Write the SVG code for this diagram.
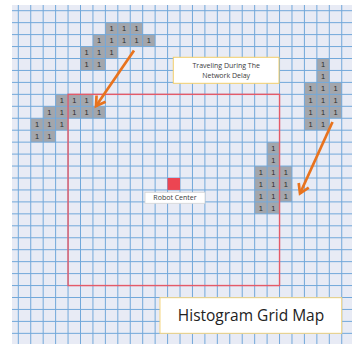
<svg xmlns="http://www.w3.org/2000/svg" width="352" height="344" viewBox="0 0 352 344">
  <style>
    .cell { fill: #A3A6AC; }
    .one { font-family: "Liberation Sans", Arial, sans-serif; font-size: 7.5px; fill: #2b2b2b; text-anchor: middle; }
    .grid { stroke: #72A8DA; stroke-width: 1; fill: none; }
    .lbl { font-family: "Open Sans", "Liberation Sans", Arial, sans-serif; fill: #3a3a3a; text-anchor: middle; }
    .arrow { stroke: #E8731E; stroke-width: 2.7; fill: none; marker-end: url(#head); }
  </style>
  <defs>
    <marker id="head" markerUnits="userSpaceOnUse" markerWidth="14" markerHeight="14" refX="11" refY="7" orient="auto">
      <path d="M2,1.5 L11,7 L2,12.5" fill="none" stroke="#E8731E" stroke-width="2.7" stroke-linejoin="miter"/>
    </marker>
  </defs>
  <rect x="0" y="0" width="352" height="344" fill="#ffffff"/>
  <rect x="12" y="5" width="340" height="339" fill="#E8EBF5"/>

  <g id="clusterA">
    <rect class="cell" x="105.38" y="22.65" width="37.32" height="11.95"/>
    <rect class="cell" x="92.94" y="34.6" width="62.2" height="11.95"/>
    <rect class="cell" x="80.5" y="46.55" width="37.32" height="11.95"/>
    <rect class="cell" x="80.5" y="58.5" width="24.88" height="11.95"/>
  </g>
  <g id="clusterB">
    <rect class="cell" x="55.62" y="94.35" width="37.32" height="11.95"/>
    <rect class="cell" x="43.18" y="106.3" width="62.2" height="11.95"/>
    <rect class="cell" x="30.74" y="118.25" width="37.32" height="11.95"/>
    <rect class="cell" x="30.74" y="130.2" width="24.88" height="11.95"/>
  </g>
  <g id="clusterC">
    <rect class="cell" x="316.86" y="58.5" width="12.44" height="23.9"/>
    <rect class="cell" x="304.42" y="82.4" width="37.32" height="35.85"/>
    <rect class="cell" x="304.42" y="118.25" width="24.88" height="11.95"/>
  </g>
  <g id="clusterD">
    <rect class="cell" x="267.1" y="142.15" width="12.44" height="23.9"/>
    <rect class="cell" x="254.66" y="166.05" width="37.32" height="35.85"/>
    <rect class="cell" x="254.66" y="201.9" width="24.88" height="11.95"/>
  </g>

  <g id="gridlines">
    <path class="grid" d="M18.3,5V344 M30.74,5V344 M43.18,5V344 M55.62,5V344 M68.06,5V344 M80.5,5V344 M92.94,5V344 M105.38,5V344 M117.82,5V344 M130.26,5V344 M142.7,5V344 M155.14,5V344 M167.58,5V344 M180.02,5V344 M192.46,5V344 M204.9,5V344 M217.34,5V344 M229.78,5V344 M242.22,5V344 M254.66,5V344 M267.1,5V344 M279.54,5V344 M291.98,5V344 M304.42,5V344 M316.86,5V344 M329.3,5V344 M341.74,5V344"/>
    <path class="grid" d="M12,10.7H352 M12,22.65H352 M12,34.6H352 M12,46.55H352 M12,58.5H352 M12,70.45H352 M12,82.4H352 M12,94.35H352 M12,106.3H352 M12,118.25H352 M12,130.2H352 M12,142.15H352 M12,154.1H352 M12,166.05H352 M12,178H352 M12,189.95H352 M12,201.9H352 M12,213.85H352 M12,225.8H352 M12,237.75H352 M12,249.7H352 M12,261.65H352 M12,273.6H352 M12,285.55H352 M12,297.5H352 M12,309.45H352 M12,321.4H352 M12,333.35H352"/>
  </g>

  <g id="ones">
    <text class="one" x="111.6" y="31.4">1</text><text class="one" x="124" y="31.4">1</text><text class="one" x="136.5" y="31.4">1</text>
    <text class="one" x="99.2" y="43.3">1</text><text class="one" x="111.6" y="43.3">1</text><text class="one" x="124" y="43.3">1</text><text class="one" x="136.5" y="43.3">1</text><text class="one" x="148.9" y="43.3">1</text>
    <text class="one" x="86.7" y="55.3">1</text><text class="one" x="99.2" y="55.3">1</text><text class="one" x="111.6" y="55.3">1</text>
    <text class="one" x="86.7" y="67.2">1</text><text class="one" x="99.2" y="67.2">1</text>

    <text class="one" x="61.8" y="103.1">1</text><text class="one" x="74.3" y="103.1">1</text><text class="one" x="86.7" y="103.1">1</text>
    <text class="one" x="49.4" y="115">1</text><text class="one" x="61.8" y="115">1</text><text class="one" x="74.3" y="115">1</text><text class="one" x="86.7" y="115">1</text><text class="one" x="99.2" y="115">1</text>
    <text class="one" x="37" y="127">1</text><text class="one" x="49.4" y="127">1</text><text class="one" x="61.8" y="127">1</text>
    <text class="one" x="37" y="138.9">1</text><text class="one" x="49.4" y="138.9">1</text>

    <text class="one" x="323.1" y="67.2">1</text>
    <text class="one" x="323.1" y="79.2">1</text>
    <text class="one" x="310.6" y="91.1">1</text><text class="one" x="323.1" y="91.1">1</text><text class="one" x="335.5" y="91.1">1</text>
    <text class="one" x="310.6" y="103.1">1</text><text class="one" x="323.1" y="103.1">1</text><text class="one" x="335.5" y="103.1">1</text>
    <text class="one" x="310.6" y="115">1</text><text class="one" x="323.1" y="115">1</text><text class="one" x="335.5" y="115">1</text>
    <text class="one" x="310.6" y="127">1</text><text class="one" x="323.1" y="127">1</text>

    <text class="one" x="273.3" y="150.9">1</text>
    <text class="one" x="273.3" y="162.8">1</text>
    <text class="one" x="260.9" y="174.8">1</text><text class="one" x="273.3" y="174.8">1</text><text class="one" x="285.8" y="174.8">1</text>
    <text class="one" x="260.9" y="186.7">1</text><text class="one" x="273.3" y="186.7">1</text><text class="one" x="285.8" y="186.7">1</text>
    <text class="one" x="260.9" y="198.7">1</text><text class="one" x="273.3" y="198.7">1</text><text class="one" x="285.8" y="198.7">1</text>
    <text class="one" x="260.9" y="210.6">1</text><text class="one" x="273.3" y="210.6">1</text>
  </g>

  <g id="range">
    <rect x="68.06" y="94.35" width="211.48" height="191.2" fill="none" stroke="#E55A68" stroke-width="1.4"/>
  </g>

  <g id="robot">
    <rect x="167.58" y="178" width="12.44" height="11.95" fill="#EC4552"/>
  </g>

  <g id="connectors">
    <line class="arrow" x1="134" y1="50.5" x2="96" y2="106"/>
    <line class="arrow" x1="332.5" y1="122" x2="300" y2="193.5"/>
  </g>

  <g id="robotLabel">
    <rect x="145" y="192.3" width="60" height="11" fill="#ffffff" stroke="#d4d4d4" stroke-width="0.8"/>
    <text class="lbl" x="175" y="200.4" font-size="7">Robot Center</text>
  </g>

  <g id="delayLabel">
    <rect x="173.3" y="57.3" width="105.7" height="26" fill="#ffffff" stroke="#F3CF6A" stroke-width="1"/>
    <text class="lbl" x="226.2" y="68" font-size="7">Traveling During The</text>
    <text class="lbl" x="226.2" y="77.8" font-size="7">Network Delay</text>
  </g>

  <g id="titleLabel">
    <rect x="160" y="297.7" width="181.7" height="35.6" fill="#ffffff" stroke="#F6D57E" stroke-width="1"/>
    <text x="251" y="321.3" font-family="Open Sans, Liberation Sans, Arial, sans-serif" font-size="15.5" fill="#222222" text-anchor="middle">Histogram Grid Map</text>
  </g>
</svg>
